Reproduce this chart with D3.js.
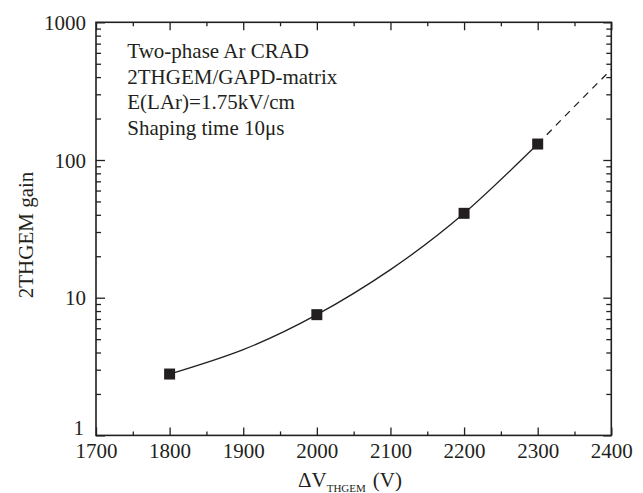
<!DOCTYPE html>
<html>
<head>
<meta charset="utf-8">
<script src="https://cdn.jsdelivr.net/npm/d3@7"></script>
<style>
  body { margin: 0; background: #fff; }
  text { font-family: "Liberation Serif", "Times New Roman", serif; fill: #231f20; }
</style>
</head>
<body>
<div id="chart"></div>
<script>
// measured points
const voltage = [1800, 2000, 2200, 2300];
const gain = [2.79, 7.53, 41.0, 130.6];

// fitted curve (solid part)
const fitVoltage = [1800, 1900, 2000, 2100, 2200, 2300];
const fitGain = [2.79, 4.2, 7.53, 16, 41.0, 130.6];

// extrapolation (dashed part)
const extVoltage = [2300, 2350, 2400];
const extGain = [130.6, 245, 455];

const xTicks = [1700, 1800, 1900, 2000, 2100, 2200, 2300, 2400];
const xMinor = [1750, 1850, 1950, 2050, 2150, 2250, 2350];
const yTicks = [1, 10, 100, 1000];

const noteLines = ["Two-phase Ar CRAD", "2THGEM/GAPD-matrix", "E(LAr)=1.75kV/cm", "Shaping time 10\u03bcs"];

const ink = "#231f20";
const serif = '"Liberation Serif", "Times New Roman", serif';
const W = 643, H = 493;
const margin = { top: 22.3, right: 31.7, bottom: 57.6, left: 96 };
const width = W - margin.left - margin.right;
const height = H - margin.top - margin.bottom;

const svg = d3.select("#chart").append("svg")
    .attr("width", W)
    .attr("height", H);

const g = svg.append("g")
    .attr("transform", `translate(${margin.left},${margin.top})`);

const x = d3.scaleLinear().domain([1700, 2400]).range([0, width]);
const y = d3.scaleLog().domain([1, 1000]).range([height, 0]);

// minor log ticks 2..9 in each decade
let yMinor = [];
[1, 10, 100].forEach(d => {
    for (let k = 2; k <= 9; k++) yMinor.push(d * k);
});

const fmt = d3.format("d");

// bottom axis with labels
const xAxis = g.append("g")
    .attr("transform", `translate(0,${height})`)
    .call(d3.axisBottom(x).tickValues(xTicks).tickSize(-8).tickPadding(7).tickFormat(fmt));
xAxis.attr("font-family", serif);
xAxis.selectAll("text")
    .style("font-family", serif)
    .style("font-size", "21px")
    .attr("fill", ink)
    .attr("dy", "0.75em");

g.append("g")
    .attr("transform", `translate(0,${height})`)
    .call(d3.axisBottom(x).tickValues(xMinor).tickSize(-4).tickFormat(""));

// top axis, ticks only
g.append("g")
    .call(d3.axisTop(x).tickValues(xTicks).tickSize(-8).tickFormat(""));
g.append("g")
    .call(d3.axisTop(x).tickValues(xMinor).tickSize(-4).tickFormat(""));

// left axis with labels
const yAxis = g.append("g")
    .call(d3.axisLeft(y).tickValues(yTicks).tickSize(-9).tickPadding(10).tickFormat(fmt));
yAxis.attr("font-family", serif);
yAxis.selectAll("text")
    .style("font-family", serif)
    .style("font-size", "21px")
    .attr("fill", ink)
    .attr("dx", (d) => d === 1 ? -2 : 0)
    .attr("dy", (d) => d === 1 ? "-0.05em" : "0.34em");

g.append("g")
    .call(d3.axisLeft(y).tickValues(yMinor).tickSize(-5).tickFormat(""));

// right axis, ticks only
g.append("g")
    .attr("transform", `translate(${width},0)`)
    .call(d3.axisRight(y).tickValues(yTicks).tickSize(-8).tickFormat(""));
g.append("g")
    .attr("transform", `translate(${width},0)`)
    .call(d3.axisRight(y).tickValues(yMinor).tickSize(-5).tickFormat(""));

// style all axes the same way
g.selectAll(".domain").remove();
g.selectAll(".tick line").attr("stroke", ink).attr("stroke-width", 1.3);

// frame
g.append("rect")
    .attr("width", width)
    .attr("height", height)
    .attr("fill", "none")
    .attr("stroke", ink)
    .attr("stroke-width", 1.6);

// fit curve
const line = d3.line()
    .x(d => x(d[0]))
    .y(d => y(d[1]))
    .curve(d3.curveNatural);

g.append("path")
    .datum(d3.zip(fitVoltage, fitGain))
    .attr("fill", "none")
    .attr("stroke", ink)
    .attr("stroke-width", 1.3)
    .attr("d", line);

g.append("path")
    .datum(d3.zip(extVoltage, extGain))
    .attr("fill", "none")
    .attr("stroke", ink)
    .attr("stroke-width", 1.3)
    .attr("stroke-dasharray", "7,6")
    .attr("d", line);

// data markers
const ms = 11;
g.selectAll(".pt")
    .data(d3.zip(voltage, gain))
    .enter()
    .append("rect")
    .attr("class", "pt")
    .attr("x", d => x(d[0]) - ms / 2)
    .attr("y", d => y(d[1]) - ms / 2)
    .attr("width", ms)
    .attr("height", ms)
    .attr("fill", ink);

// annotation
g.append("text")
    .attr("x", 127.3 - margin.left)
    .attr("y", 58 - margin.top)
    .style("font-family", serif)
    .style("font-size", "21px")
    .selectAll("tspan")
    .data(noteLines)
    .enter()
    .append("tspan")
    .attr("x", 127.3 - margin.left)
    .attr("dy", (d, i) => i === 0 ? 0 : 25.7)
    .text(d => d);

// y label
svg.append("text")
    .attr("transform", `translate(33,235) rotate(-90)`)
    .attr("text-anchor", "middle")
    .style("font-family", serif)
    .style("font-size", "21px")
    .text("2THGEM gain");

// x label with subscript
const xl = svg.append("text")
    .attr("x", 298)
    .attr("y", 487)
    .style("font-family", serif)
    .style("font-size", "21px");
xl.append("tspan").text("\u0394V");
xl.append("tspan").attr("dy", 5).style("font-size", "11px").text("THGEM");
xl.append("tspan").attr("dy", -5).attr("dx", 7).text("(V)");
</script>
</body>
</html>
